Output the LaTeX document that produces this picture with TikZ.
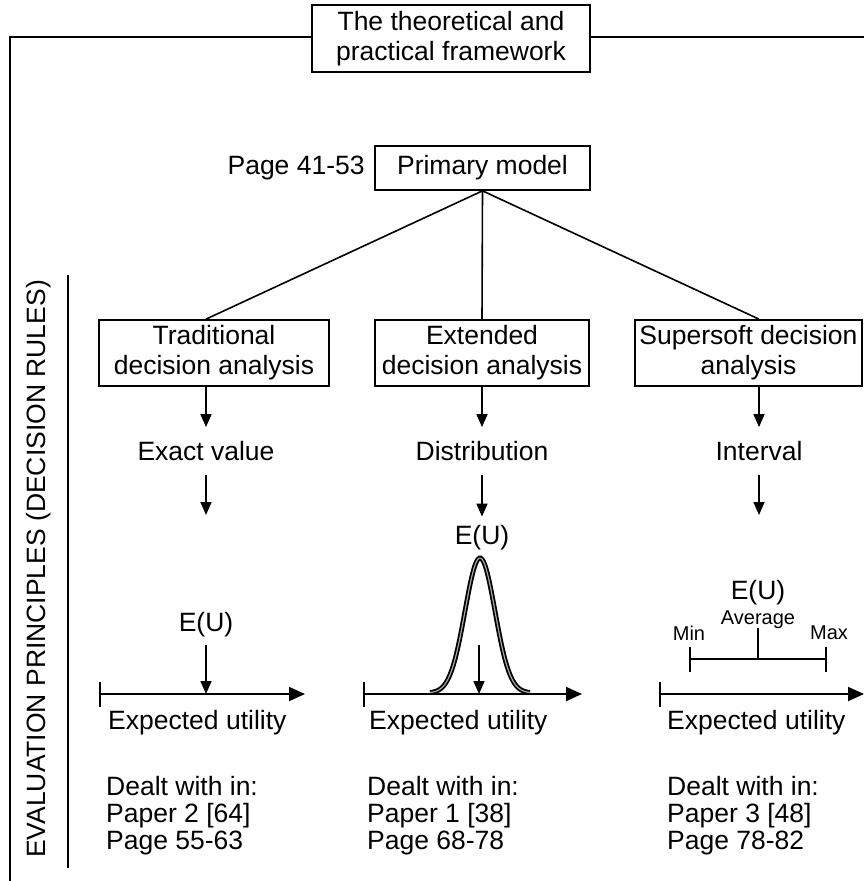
\documentclass[tikz,border=0pt]{standalone}
\usepackage{fontspec}
\setmainfont{Liberation Sans}
\usetikzlibrary{arrows.meta,positioning}
\tikzstyle{mybox} = [draw=black, line width=1.7pt, rectangle, align=center, inner sep=0pt, minimum height=66pt]
\tikzstyle{mytext} = [inner sep=0pt]
\tikzstyle{mysmall} = [inner sep=0pt, font=\fontsize{20}{22}\selectfont]
\tikzstyle{mydealt} = [inner sep=0pt, anchor=north west, align=left, font=\fontsize{26.5}{27}\selectfont]
\tikzstyle{myline} = [line width=1.6pt]
\tikzstyle{myarrow} = [line width=1.6pt, -{Triangle[length=13pt,width=11pt]}]
\tikzstyle{myaxis} = [line width=1.8pt, {Bar[width=25pt]}-{Triangle[length=16pt,width=14pt]}]

\begin{document}
\begin{tikzpicture}[x=1pt, y=-1pt, font=\fontsize{26.5}{30}\selectfont]
    \useasboundingbox (0,0) rectangle (864,881);

    % frame and title
    \node [mybox, minimum width=278pt, minimum height=67pt, fill=white] (frame) at (451,38.5) {The theoretical and\\practical framework};
    \coordinate (frameTL) at (10,37);
    \coordinate (frameTR) at (864,37);
    \coordinate (frameBL) at (10,881);
    \draw [line width=2pt] (frameTL -| frame.west) -- (frameTL) -- (frameBL);
    \draw [line width=2pt] (frameTR -| frame.east) -- (frameTR);

    \node [mytext, rotate=90] (rules) at (39,569) {EVALUATION PRINCIPLES (DECISION RULES)};
    \coordinate (sepTop) at (68,275);
    \coordinate (sepBot) at (68,868);
    \draw [myline] (sepTop) -- (sepBot);

    % model and analyses
    \node [mybox, minimum width=215pt, minimum height=44pt] (prim) at (482.5,168) {Primary model};
    \node [left=6pt of prim] (pg) {Page 41-53};

    \node [mybox, minimum width=230pt] (trad) at (214,353) {Traditional\\decision analysis};
    \node [mybox, minimum width=214pt] (ext) at (482,353) {Extended\\decision analysis};
    \node [mybox, minimum width=227pt] (soft) at (748.5,353) {Supersoft decision\\analysis};

    \node [mytext, inner sep=14pt] (exact) at (206,451) {Exact value};
    \node [mytext, inner sep=14pt] (distr) at (482,451) {Distribution};
    \node [mytext, inner sep=14pt] (intv) at (759,451) {Interval};

    \draw [myline] (prim.south) -- (exact |- trad.north);
    \draw [myline] (prim.south) -- (distr |- ext.north);
    \draw [myline] (prim.south) -- (intv |- soft.north);

    \draw [myarrow] (exact |- trad.south) -- (exact.north);
    \draw [myarrow] (distr |- ext.south) -- (distr.north);
    \draw [myarrow] (intv |- soft.south) -- (intv.north);

    \coordinate (exactEnd) at (206,515);
    \coordinate (intvEnd) at (759,515);
    \node [mytext, anchor=base, inner sep=8pt] (euA) at (206,631.5) {E(U)};
    \node [mytext, anchor=base, inner sep=8pt] (euB) at (482,544) {E(U)};
    \node [mytext, anchor=base, inner sep=8pt] (euC) at (758,599.5) {E(U)};
    \draw [myarrow] (exact.south) -- (exactEnd);
    \draw [myarrow] (distr.south) -- (euB.north);
    \draw [myarrow] (intv.south) -- (intvEnd);

    % utility axes
    \coordinate (axA1) at (99,694);
    \coordinate (axA2) at (305,694);
    \coordinate (axB1) at (363,694);
    \coordinate (axB2) at (582,694);
    \coordinate (axC1) at (659,694);
    \coordinate (axC2) at (864,694);
    \draw [myaxis] (axA1) -- (axA2);
    \draw [myaxis] (axB1) -- (axB2);
    \draw [myaxis] (axC1) -- (axC2);

    \draw [myarrow] (euA.south) -- (euA.south |- axA1);

    \draw [line width=1.8pt, double=gray!70, double distance=1.2pt]
        plot [domain=-50:50, samples=70, smooth, variable=\t] ({480+\t},{693-135*exp(-0.5*(\t/15)*(\t/15))});
    \coordinate (meanB) at (479,645);
    \draw [myarrow] (meanB) -- (meanB |- axB1);

    \coordinate (minC) at (689,659);
    \coordinate (maxC) at (827,659);
    \coordinate (avgC) at (758,659);
    \draw [line width=1.8pt, {Bar[width=25pt]}-{Bar[width=25pt]}] (minC) -- (maxC);
    \node [mysmall] (minL) at (689,633) {Min};
    \node [mysmall] (maxL) at (829,633) {Max};
    \node [mysmall] (avgL) at (758,620) {Average};
    \draw [line width=1.8pt] (avgC) -- (avgC |- 0,628);

    \node [mytext, anchor=base west] (expA) at (108,729) {Expected utility};
    \node [mytext, anchor=base west] (expB) at (369,729) {Expected utility};
    \node [mytext, anchor=base west] (expC) at (667,729) {Expected utility};

    \node [mydealt] (dealtA) at (106,776) {Dealt with in:\\Paper 2 [64]\\Page 55-63};
    \node [mydealt] (dealtB) at (367,776) {Dealt with in:\\Paper 1 [38]\\Page 68-78};
    \node [mydealt] (dealtC) at (667,776) {Dealt with in:\\Paper 3 [48]\\Page 78-82};
\end{tikzpicture}
\end{document}
